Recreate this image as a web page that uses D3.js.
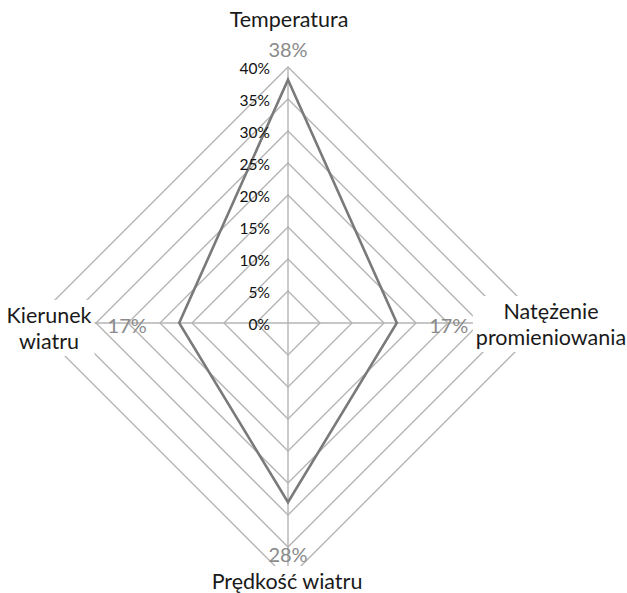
<!DOCTYPE html>
<html>
<head>
<meta charset="utf-8">
<script src="https://cdn.jsdelivr.net/npm/d3@7/dist/d3.min.js"></script>
<style>
  html, body { margin: 0; padding: 0; background: #fff; }
  svg { display: block; }
</style>
</head>
<body>
<svg id="chart" width="627" height="593"></svg>
<script>
// Radar chart: share of each weather factor
const categories = ["Temperatura", "Natężenie\npromieniowania", "Prędkość wiatru", "Kierunek\nwiatru"];
const values = [0.38, 0.17, 0.28, 0.17];
const tickValues = [0, 0.05, 0.10, 0.15, 0.20, 0.25, 0.30, 0.35, 0.40];

const width = 627, height = 593;
const cx = 288, cy = 323;
const maxR = 256;

const svg = d3.select("#chart");
const r = d3.scaleLinear().domain([0, 0.40]).range([0, maxR]);
const pct = d3.format(".0%");

// axis angle, clockwise from the top
const angle = d3.scaleLinear().domain([0, categories.length]).range([0, 2 * Math.PI]);
const pt = (i, v) => {
  const a = angle(i);
  return [cx + r(v) * Math.sin(a), cy - r(v) * Math.cos(a)];
};

const g = svg.append("g");

// concentric grid polygons
const gridLine = d3.line();
g.selectAll("path.grid")
  .data(tickValues.filter(t => t > 0))
  .join("path")
  .attr("class", "grid")
  .attr("d", t => gridLine(categories.map((_, i) => pt(i, t))) + "Z")
  .attr("fill", "none")
  .attr("stroke", "#b4b4b4")
  .attr("stroke-width", 1.4);

// spokes
g.selectAll("line.spoke")
  .data(categories)
  .join("line")
  .attr("class", "spoke")
  .attr("x1", cx).attr("y1", cy)
  .attr("x2", (_, i) => pt(i, 0.40)[0])
  .attr("y2", (_, i) => pt(i, 0.40)[1])
  .attr("stroke", "#b4b4b4")
  .attr("stroke-width", 1.4);

// data series
g.append("path")
  .attr("d", d3.line()(values.map((v, i) => pt(i, v))) + "Z")
  .attr("fill", "none")
  .attr("stroke", "#7a7a7a")
  .attr("stroke-width", 2.6)
  .attr("stroke-linejoin", "miter");

// value labels
const valueOffset = [[0, -31], [52, 2], [0, 52], [-52, 2]];
g.selectAll("text.value")
  .data(values)
  .join("text")
  .attr("class", "value")
  .attr("x", (v, i) => pt(i, v)[0] + valueOffset[i][0])
  .attr("y", (v, i) => pt(i, v)[1] + valueOffset[i][1])
  .attr("text-anchor", "middle")
  .attr("dominant-baseline", "central")
  .attr("font-family", "Lato, 'Open Sans', sans-serif")
  .attr("font-size", 20)
  .attr("fill", "#8a8a8a")
  .text(v => pct(v));

// radial tick labels along the top spoke
g.selectAll("text.tick")
  .data(tickValues)
  .join("text")
  .attr("class", "tick")
  .attr("x", cx - 18)
  .attr("y", t => cy - r(t) + 1)
  .attr("text-anchor", "end")
  .attr("dominant-baseline", "central")
  .attr("font-family", "Lato, 'Open Sans', sans-serif")
  .attr("font-size", 15.5)
  .attr("fill", "#111")
  .text(t => pct(t));

// category labels with an opaque backing
const catPos = [[289, 19], [551, 324], [287, 581], [49, 328]];
const lineH = 26;
categories.forEach((name, i) => {
  const lines = name.split("\n");
  const lg = g.append("g");
  const bg = lg.append("rect").attr("fill", "#fff");
  const t = lg.append("text")
    .attr("text-anchor", "middle")
    .attr("font-family", "Lato, 'Open Sans', sans-serif")
    .attr("font-size", 21.5)
    .attr("fill", "#1a1a1a");
  lines.forEach((ln, k) => {
    t.append("tspan")
      .attr("x", catPos[i][0])
      .attr("y", catPos[i][1] + (k - (lines.length - 1) / 2) * lineH)
      .attr("dominant-baseline", "central")
      .text(ln);
  });
  const bb = t.node().getBBox();
  bg.attr("x", bb.x - 3).attr("y", bb.y - 2)
    .attr("width", bb.width + 6).attr("height", bb.height + 4);
});
</script>
</body>
</html>
